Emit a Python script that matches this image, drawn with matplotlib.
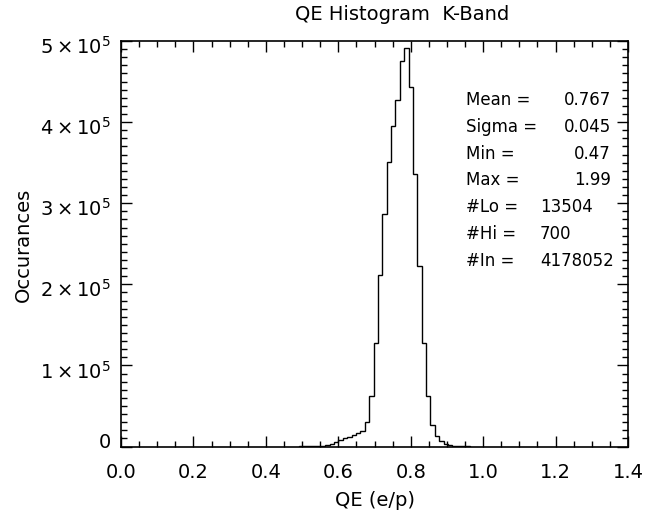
import numpy as np
import matplotlib
matplotlib.use("Agg")
import matplotlib.pyplot as plt
import matplotlib.transforms as mtransforms
from matplotlib.ticker import MultipleLocator

# histogram of QE values (counts per bin)
bin_start = 0.4916
bin_width = 0.0121
counts = [100, 200, 300, 500, 800, 1200, 2000, 3300, 5000, 7400,
          10000, 12000, 14000, 16800,
          19100, 29800, 62600, 127300, 211500, 286300, 350400, 394600,
          427300, 475300, 491000, 442900, 335600, 222900, 127300, 62600,
          26500, 13000,
          6600, 3300, 1600, 800, 400, 200, 100]

stats_names = ["Mean =", "Sigma =", "Min =", "Max ="]
stats_values = ["0.767", "0.045", "0.47", "1.99"]
count_names = ["#Lo =", "#Hi =", "#In ="]
count_values = ["13504", "700", "4178052"]

x_ticks = [0.0, 0.2, 0.4, 0.6, 0.8, 1.0, 1.2, 1.4]
y_ticks = [0, 1e5, 2e5, 3e5, 4e5, 5e5]
y_labels = ["0", r"$1\times10^{5}$", r"$2\times10^{5}$", r"$3\times10^{5}$",
            r"$4\times10^{5}$", r"$5\times10^{5}$"]

plt.rcParams["mathtext.default"] = "regular"

W, H = 653, 519
fig = plt.figure(figsize=(W / 100, H / 100), dpi=100)

def fx(px):
    return px / W

def fy(py):
    return 1 - py / H

ax = fig.add_axes([fx(121), fy(446.5), fx(628) - fx(121), fy(41) - fy(446.5)])

edges = bin_start + bin_width * np.arange(len(counts) + 1)
ax.stairs(counts, edges, color="black", linewidth=1.0)

ax.set_xlim(0.0, 1.4)
ax.set_ylim(0, 5e5)
ax.set_xticks(x_ticks)
ax.set_xticklabels([f"{v:.1f}" for v in x_ticks])
ax.set_yticks(y_ticks)
ax.set_yticklabels(y_labels)
ax.xaxis.set_minor_locator(MultipleLocator(0.05))
ax.yaxis.set_minor_locator(MultipleLocator(1e4))
ax.tick_params(which="both", direction="in", top=True, right=True,
               width=1.0, labelsize=14, colors="black")
ax.tick_params(which="major", length=8)
ax.tick_params(which="minor", length=4)
ax.tick_params(axis="x", pad=12)
ax.tick_params(axis="y", pad=7)
for s in ax.spines.values():
    s.set_linewidth(1.2)

# IDL puts the y labels a little off their ticks
for i, lab in enumerate(ax.get_yticklabels()):
    dy = 6 if i == 0 else -4
    off = mtransforms.ScaledTranslation(0, dy / 100, fig.dpi_scale_trans)
    lab.set_transform(lab.get_transform() + off)

fig.text(fx(402), fy(15), "QE Histogram  K-Band", ha="center", va="center", fontsize=14)
fig.text(fx(375), fy(500), "QE (e/p)", ha="center", va="center", fontsize=14)
fig.text(fx(23), fy(245), "Occurances", ha="center", va="center", rotation=90, fontsize=14)

y = 100
for name, val in zip(stats_names, stats_values):
    fig.text(fx(466), fy(y), name, ha="left", va="center", fontsize=12)
    fig.text(fx(611), fy(y), val, ha="right", va="center", fontsize=12)
    y += 26.8
for name, val in zip(count_names, count_values):
    fig.text(fx(466), fy(y), name, ha="left", va="center", fontsize=12)
    fig.text(fx(540), fy(y), val, ha="left", va="center", fontsize=12)
    y += 26.8

fig.savefig("out.png", dpi=100)
